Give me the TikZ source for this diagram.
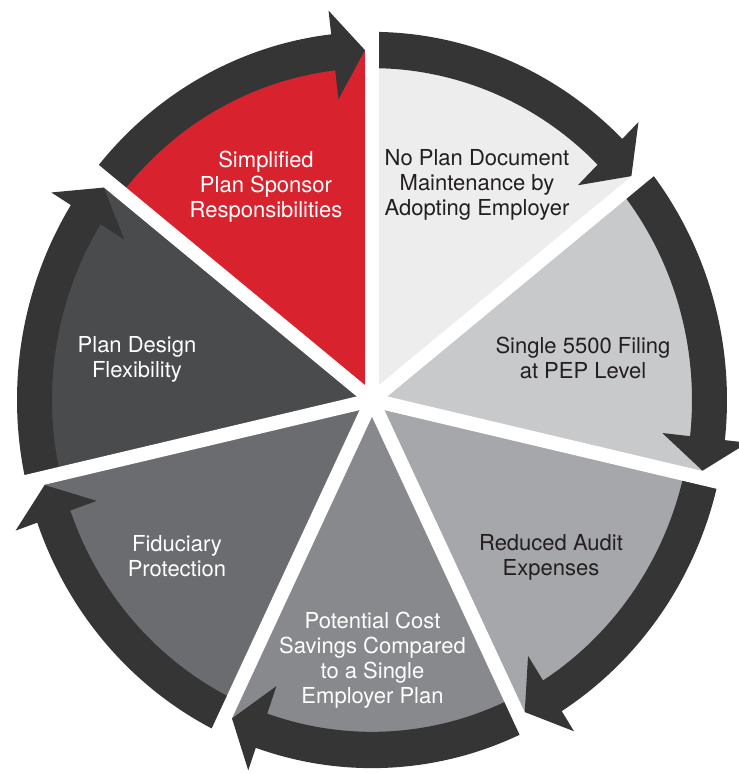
\documentclass[tikz,border=0pt]{standalone}
\usepackage{fontspec}
\setmainfont{TeX Gyre Heros}
\usepackage{tikz}
\definecolor{pepred}{HTML}{D8232E}
\definecolor{sliceA}{HTML}{EDEDED}
\definecolor{sliceB}{HTML}{C8C9CB}
\definecolor{sliceC}{HTML}{A6A7AA}
\definecolor{sliceD}{HTML}{88898C}
\definecolor{sliceE}{HTML}{6B6C6F}
\definecolor{sliceF}{HTML}{4A4B4D}
\definecolor{ringgray}{HTML}{353535}
\definecolor{darktext}{HTML}{231F20}
\tikzset{
  slicetext/.style={align=center,inner sep=0pt,font=\fontsize{22}{25}\selectfont},
  ringarrow/.style={fill=ringgray},
  gapline/.style={draw=white,line width=14pt}
}
% ring radii and arrow head sizes
\newcommand*{\rin}{320}
\newcommand*{\rmid}{337.5}
\newcommand*{\rout}{355}
\newcommand*{\barbin}{292}
\newcommand*{\barbout}{378}
\newcommand*{\headlen}{6.6}
\newcommand*{\tipgap}{1.2}
% one wedge with its arrow, from #1 down to #2 (clockwise)
\newcommand*{\pepwedge}[3]{%
  \fill[#3] (0,0) -- (#1:\rmid) arc[start angle=#1,end angle=#2,radius=\rmid] -- cycle;
  \fill[ringarrow] (#1:\rout) arc[start angle=#1,end angle=#2+\headlen,radius=\rout]
    -- (#2+\headlen:\barbout) -- (#2+\tipgap:\rmid) -- (#2+\headlen:\barbin)
    -- (#2+\headlen:\rin) arc[start angle=#2+\headlen,end angle=#1,radius=\rin] -- cycle;
}

\begin{document}
\begin{tikzpicture}[x=1pt,y=1pt]
\useasboundingbox (-372,-374) rectangle (367,400);

\begin{scope}[yscale=1.037]
\pepwedge{90}{38.57}{sliceA}
\pepwedge{38.57}{-12.86}{sliceB}
\pepwedge{-12.86}{-64.29}{sliceC}
\pepwedge{-64.29}{-115.71}{sliceD}
\pepwedge{-115.71}{-167.14}{sliceE}
\pepwedge{-167.14}{-218.57}{sliceF}
\pepwedge{-218.57}{-270}{pepred}

% white gaps between the wedges
\draw[gapline] (0,0) -- (90:400);
\draw[gapline] (0,0) -- (38.57:400);
\draw[gapline] (0,0) -- (-12.86:400);
\draw[gapline] (0,0) -- (-64.29:400);
\draw[gapline] (0,0) -- (-115.71:400);
\draw[gapline] (0,0) -- (-167.14:400);
\draw[gapline] (0,0) -- (-218.57:400);
\end{scope}

\node[slicetext,text=white] (simplified) at (-106,213) {Simplified\\Plan Sponsor\\Responsibilities};
\node[slicetext,text=darktext] (nodocument) at (105,215.5) {No Plan Document\\Maintenance by\\Adopting Employer};
\node[slicetext,text=darktext] (singlefiling) at (211,42.5) {Single 5500 Filing\\at PEP Level};
\node[slicetext,text=darktext] (reducedaudit) at (179,-157) {Reduced Audit\\Expenses};
\node[slicetext,text=white] (costsavings) at (0.5,-260.5) {Potential Cost\\Savings Compared\\to a Single\\Employer Plan};
\node[slicetext,text=white] (fiduciary) at (-195,-156) {Fiduciary\\Protection};
\node[slicetext,text=white] (plandesign) at (-235,41) {Plan Design\\Flexibility};
\end{tikzpicture}
\end{document}
